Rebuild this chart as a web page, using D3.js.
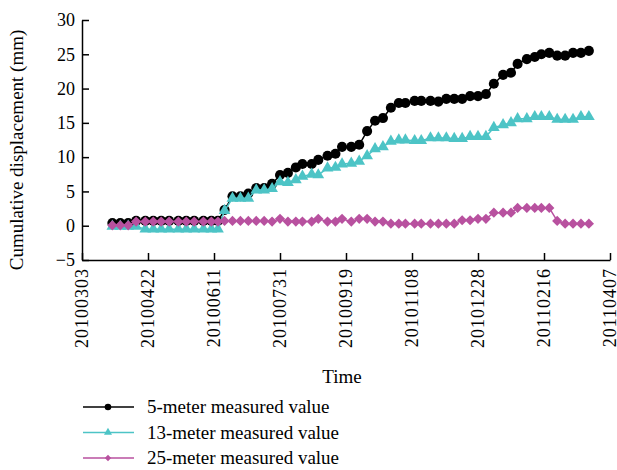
<!DOCTYPE html>
<html>
<head>
<meta charset="utf-8">
<title>Cumulative displacement</title>
<style>
  body { margin: 0; background: #fff; }
  text { font-family: "Liberation Serif", "Times New Roman", serif; fill: #000; }
</style>
</head>
<body>
<script src="https://d3js.org/d3.v7.min.js"></script>
<script>
// measurement dates (yyyymmdd)
var dates = ["20100326","20100401","20100407","20100413","20100420","20100426","20100502","20100508","20100515","20100521",
             "20100527","20100603","20100609","20100614","20100619","20100625","20100701","20100707","20100713","20100719",
             "20100725","20100731","20100806","20100812","20100817","20100824","20100829","20100905","20100911","20100916",
             "20100923","20100929","20101005","20101011","20101017","20101023","20101029","20101103","20101110","20101115",
             "20101122","20101128","20101204","20101210","20101216","20101222","20101228","20110103","20110109","20110116",
             "20110122","20110127","20110203","20110209","20110214","20110220","20110226","20110304","20110310","20110316",
             "20110322"];

var m5 = [0.4,0.4,0.4,0.7,0.7,0.7,0.7,0.7,0.7,0.7,
          0.7,0.7,0.7,0.7,2.3,4.3,4.3,4.7,5.5,5.5,
          6.1,7.4,7.7,8.5,9.0,9.0,9.6,10.2,10.5,11.5,
          11.5,11.8,13.8,15.3,15.7,17.2,17.9,17.9,18.2,18.2,
          18.2,18.1,18.5,18.5,18.5,18.9,18.9,19.2,20.7,22.0,
          22.3,23.6,24.3,24.6,25.0,25.2,24.8,24.8,25.2,25.2,
          25.5];

var m13 = [-0.1,-0.1,-0.1,-0.1,-0.5,-0.5,-0.5,-0.5,-0.5,-0.5,
           -0.5,-0.5,-0.5,-0.5,2.2,4.0,4.0,4.0,5.2,5.2,
           5.4,6.4,6.3,6.7,7.2,7.5,7.4,8.4,8.5,9.0,
           9.1,9.4,10.2,11.2,11.5,12.3,12.5,12.5,12.4,12.4,
           12.8,12.8,12.8,12.7,12.7,13.0,13.0,13.0,14.3,14.7,
           15.0,15.6,15.6,15.9,15.9,15.9,15.5,15.5,15.5,15.9,
           15.9];

var m25 = [0.05,0.05,0.05,0.6,0.6,0.6,0.6,0.6,0.6,0.6,
           0.6,0.6,0.6,0.6,0.7,0.7,0.7,0.7,0.7,0.7,
           0.6,1.0,0.6,0.6,0.6,0.6,1.0,0.6,0.6,1.0,
           0.6,1.0,1.0,0.6,0.6,0.3,0.3,0.3,0.3,0.3,
           0.3,0.3,0.3,0.3,0.8,0.8,1.0,1.0,1.9,1.9,
           1.9,2.6,2.6,2.6,2.6,2.6,0.7,0.3,0.3,0.3,
           0.3];

var xTicks = ["20100303","20100422","20100611","20100731","20100919","20101108","20101228","20110216","20110407"];
var yTicks = [-5, 0, 5, 10, 15, 20, 25, 30];

var seriesNames = ["5-meter measured value", "13-meter measured value", "25-meter measured value"];
var seriesColors = ["#000000", "#4dc4c6", "#b8519f"];

const width = 617, height = 470;
const parse = d3.utcParse("%Y%m%d");

const svg = d3.select("body").append("svg")
    .attr("width", width)
    .attr("height", height);

svg.append("rect").attr("width", width).attr("height", height).attr("fill", "#fff");

const x = d3.scaleUtc()
    .domain([parse(xTicks[0]), parse(xTicks[xTicks.length - 1])])
    .range([82, 610]);

const y = d3.scaleLinear()
    .domain([-5, 30])
    .range([260, 20]);

// axes
const yAxis = svg.append("g")
    .attr("transform", "translate(82,0)")
    .call(d3.axisLeft(y).tickValues(yTicks).tickSizeInner(-7).tickSizeOuter(0).tickPadding(7));

const xAxis = svg.append("g")
    .attr("transform", "translate(0,260)")
    .call(d3.axisBottom(x).tickValues(xTicks.map(parse)).tickFormat(d3.utcFormat("%Y%m%d"))
        .tickSizeInner(-7).tickSizeOuter(0));

[yAxis, xAxis].forEach(function(g) {
    g.select(".domain").attr("stroke", "#000").attr("stroke-width", 1.5);
    g.selectAll(".tick line").attr("stroke", "#000").attr("stroke-width", 1.5);
    g.selectAll("text").attr("font-family", "Liberation Serif").attr("fill", "#000");
});

yAxis.selectAll("text").attr("font-size", 18);

xAxis.selectAll("text")
    .attr("font-size", 18)
    .attr("letter-spacing", 1)
    .attr("transform", "rotate(-90)")
    .attr("text-anchor", "end")
    .attr("x", -8)
    .attr("y", 0)
    .attr("dy", "0.33em");

// axis titles
svg.append("text")
    .attr("x", 342)
    .attr("y", 383)
    .attr("text-anchor", "middle")
    .attr("font-size", 19)
    .text("Time");

svg.append("text")
    .attr("transform", "translate(23,150) rotate(-90)")
    .attr("text-anchor", "middle")
    .attr("font-size", 19)
    .text("Cumulative displacement (mm)");

// series
const series = [m5, m13, m25];
const symbols = [
    d3.symbol().type(d3.symbolCircle).size(80),
    d3.symbol().type(d3.symbolTriangle).size(60),
    d3.symbol().type(d3.symbolSquare).size(52)
];
const rot = [0, 0, 45];

const line = d3.line()
    .x(function(d) { return x(d[0]); })
    .y(function(d) { return y(d[1]); });

// 5 m drawn first, 25 m last (on top)
[0, 1, 2].forEach(function(si) {
    var pts = dates.map(function(dt, i) { return [parse(dt), series[si][i]]; });
    var g = svg.append("g");
    g.append("path")
        .datum(pts)
        .attr("fill", "none")
        .attr("stroke", seriesColors[si])
        .attr("stroke-width", 1.5)
        .attr("d", line);
    g.selectAll("path.pt")
        .data(pts)
        .enter()
        .append("path")
        .attr("class", "pt")
        .attr("d", symbols[si])
        .attr("fill", seriesColors[si])
        .attr("transform", function(d) {
            return "translate(" + x(d[0]) + "," + y(d[1]) + ") rotate(" + rot[si] + ")";
        });
});

// legend
const legend = svg.append("g");
seriesNames.forEach(function(name, i) {
    var yy = 407 + i * 25.5;
    legend.append("line")
        .attr("x1", 83).attr("x2", 134)
        .attr("y1", yy).attr("y2", yy)
        .attr("stroke", seriesColors[i])
        .attr("stroke-width", 1.5);
    var legSym = [d3.symbol().type(d3.symbolCircle).size(34),
                  d3.symbol().type(d3.symbolTriangle).size(28),
                  d3.symbol().type(d3.symbolSquare).size(20)][i];
    legend.append("path")
        .attr("d", legSym)
        .attr("fill", seriesColors[i])
        .attr("transform", "translate(108," + yy + ") rotate(" + rot[i] + ")");
    legend.append("text")
        .attr("x", 147)
        .attr("y", yy)
        .attr("dy", "0.33em")
        .attr("font-size", 19)
        .text(name);
});
</script>
</body>
</html>
